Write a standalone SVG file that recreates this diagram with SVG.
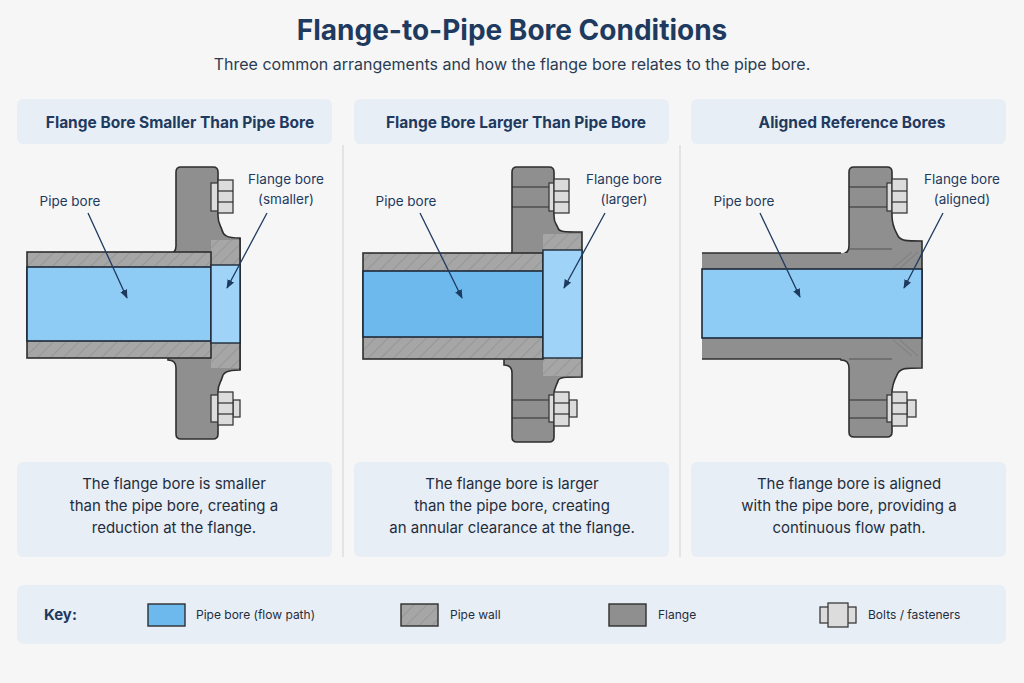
<svg xmlns="http://www.w3.org/2000/svg" width="1024" height="683" viewBox="0 0 1024 683">
<defs>
<pattern id="hatch" width="9" height="9" patternUnits="userSpaceOnUse" patternTransform="rotate(45)">
<rect width="9" height="9" fill="#a6a6a6"/><line x1="0" y1="0" x2="0" y2="9" stroke="#7d7d7d" stroke-width="0.8"/>
</pattern>
<marker id="ah" viewBox="0 0 10 10" refX="9" refY="5" markerWidth="7" markerHeight="7" orient="auto"><path d="M0,1 L10,5 L0,9 z" fill="#1f3a5f"/></marker>
</defs>
<style>
text{font-family:Inter,"Liberation Sans",sans-serif;fill:#1f2d3d}
.hdr{font-size:15.5px;font-weight:700;text-anchor:middle;fill:#1f3a5f}
.box{fill:#e8eef5}
.desc{font-size:15px;text-anchor:middle}
.lab{font-size:13.5px;text-anchor:middle;fill:#1f3a5f}
.fl{fill:#8f8f8f;stroke:#2e2e2e;stroke-width:1.6}
.wall{fill:url(#hatch);stroke:#2e2e2e;stroke-width:1.6}
.bore{fill:#8ecbf5;stroke:#1e2a36;stroke-width:1.6}
.bore2{fill:#9fd3f7;stroke:#1e2a36;stroke-width:1.4}
.bolt{fill:#dcdcdc;stroke:#3a3a3a;stroke-width:1.3}
.ld{stroke:#1f3a5f;stroke-width:1.3;fill:none;marker-end:url(#ah)}
.hole{stroke:#2e2e2e;stroke-width:1.2}
.key{font-size:12px}
</style>
<rect width="1024" height="683" fill="#f6f6f6"/>
<text x="512" y="40" text-anchor="middle" style="font-size:28px;font-weight:700;fill:#1f3a5f">Flange-to-Pipe Bore Conditions</text>
<text x="512" y="70" text-anchor="middle" style="font-size:16px;fill:#2a3c52">Three common arrangements and how the flange bore relates to the pipe bore.</text>
<line x1="343" y1="145" x2="343" y2="557" stroke="#d5d9de" stroke-width="1.2"/>
<line x1="680" y1="145" x2="680" y2="557" stroke="#d5d9de" stroke-width="1.2"/>

<!-- Panel 1 -->
<g id="panel1">
<rect class="box" x="17" y="99" width="315" height="45" rx="6"/>
<text class="hdr" x="180" y="128">Flange Bore Smaller Than Pipe Bore</text>
<path class="fl" d="M176,172 q0,-5 5,-5 h32 q5,0 5,5 v44 c0,8 3,10 4,14 c1,5 4,8 18,8 v132 c-14,0 -17,3 -18,8 c-1,4 -4,6 -4,14 v42 q0,5 -5,5 h-32 q-5,0 -5,-5 v-66 c0,-5 -3,-8 -8,-8 v-106 c5,0 8,-3 8,-8 z"/>
<rect x="211" y="240" width="29" height="128" fill="url(#hatch)"/>
<line x1="240" y1="238" x2="240" y2="370" stroke="#2e2e2e" stroke-width="1.6"/>
<rect class="wall" x="27" y="252" width="184" height="106"/>
<rect class="bore" x="27" y="267" width="184" height="74"/>
<rect class="bore2" x="211" y="265" width="29" height="78"/>
<rect class="bolt" x="211" y="183" width="7" height="28"/><rect class="bolt" x="218" y="180" width="15" height="33"/><line class="hole" x1="218" y1="191" x2="233" y2="191"/><line class="hole" x1="218" y1="202" x2="233" y2="202"/>
<rect class="bolt" x="233" y="400" width="7" height="17"/><rect class="bolt" x="211" y="395" width="7" height="27"/><rect class="bolt" x="218" y="392" width="15" height="33"/><line class="hole" x1="218" y1="403" x2="233" y2="403"/><line class="hole" x1="218" y1="414" x2="233" y2="414"/>
<text class="lab" x="70" y="206">Pipe bore</text>
<text class="lab" x="286" y="184">Flange bore</text><text class="lab" x="286" y="204">(smaller)</text>
<rect class="box" x="17" y="462" width="315" height="95" rx="6"/>
<text class="desc" x="174" y="489">The flange bore is smaller</text>
<text class="desc" x="174" y="511">than the pipe bore, creating a</text>
<text class="desc" x="174" y="533">reduction at the flange.</text>
</g>

<!-- Panel 2 -->
<g id="panel2">
<rect class="box" x="354" y="99" width="315" height="45" rx="6"/>
<text class="hdr" x="516" y="128">Flange Bore Larger Than Pipe Bore</text>
<path class="fl" d="M512,172 q0,-5 5,-5 h32 q5,0 5,5 v44 c0,8 3,8 4,12 c1,4 6,4 24,4 v145 c-18,0 -23,0 -24,4 c-1,4 -4,6 -4,14 v42 q0,5 -5,5 h-32 q-5,0 -5,-5 v-64 c0,-5 -3,-8 -8,-8 v-106 c5,0 8,-3 8,-8 z"/>
<rect x="543" y="234" width="38" height="16" fill="url(#hatch)"/>
<rect x="543" y="358" width="38" height="18" fill="url(#hatch)"/>
<line class="hole" x1="512" y1="187" x2="554" y2="187"/><line class="hole" x1="512" y1="207" x2="554" y2="207"/>
<line class="hole" x1="512" y1="400" x2="554" y2="400"/><line class="hole" x1="512" y1="418" x2="554" y2="418"/>
<rect class="wall" x="363" y="253" width="180" height="106"/>
<rect x="363" y="271" width="180" height="66" fill="#6db9ee" stroke="#1e2a36" stroke-width="1.6"/>
<rect class="bore2" x="543" y="250" width="39" height="108"/>
<rect class="bolt" x="549" y="183" width="5" height="28"/><rect class="bolt" x="554" y="179" width="15" height="34"/><line class="hole" x1="554" y1="191" x2="569" y2="191"/><line class="hole" x1="554" y1="202" x2="569" y2="202"/>
<rect class="bolt" x="569" y="400" width="8" height="17"/><rect class="bolt" x="549" y="395" width="5" height="27"/><rect class="bolt" x="554" y="392" width="15" height="34"/><line class="hole" x1="554" y1="403" x2="569" y2="403"/><line class="hole" x1="554" y1="414" x2="569" y2="414"/>
<text class="lab" x="406" y="206">Pipe bore</text>
<text class="lab" x="624" y="184">Flange bore</text><text class="lab" x="624" y="204">(larger)</text>
<rect class="box" x="354" y="462" width="315" height="95" rx="6"/>
<text class="desc" x="512" y="489">The flange bore is larger</text>
<text class="desc" x="512" y="511">than the pipe bore, creating</text>
<text class="desc" x="512" y="533">an annular clearance at the flange.</text>
</g>

<!-- Panel 3 -->
<g id="panel3">
<rect class="box" x="691" y="99" width="315" height="45" rx="6"/>
<text class="hdr" x="852" y="128">Aligned Reference Bores</text>
<path class="fl" d="M849,172 q0,-5 5,-5 h33 q5,0 5,5 v44 c0,10 3,14 6,20 c3,5 8,5 24,5 v127 c-16,0 -21,0 -24,5 c-3,6 -6,10 -6,20 v39 q0,5 -5,5 h-33 q-5,0 -5,-5 v-64 c0,-5 -3,-8 -8,-8 v-106 c5,0 8,-3 8,-8 z"/>
<rect x="702" y="253" width="160" height="106" fill="#8f8f8f"/>
<path d="M702,253 H841 M702,359 H841" stroke="#2e2e2e" stroke-width="1.6"/>
<line class="hole" x1="849" y1="187" x2="892" y2="187"/><line class="hole" x1="849" y1="207" x2="892" y2="207"/>
<line class="hole" x1="849" y1="400" x2="892" y2="400"/><line class="hole" x1="849" y1="418" x2="892" y2="418"/>
<line x1="849" y1="249" x2="892" y2="249" stroke="#555" stroke-width="1"/>
<line x1="849" y1="359" x2="892" y2="359" stroke="#555" stroke-width="1"/>
<path d="M893,268 L912,252 M900,268 L918,252 M893,340 L912,356 M900,340 L918,356" stroke="#777" stroke-width="0.8"/>
<rect class="bore" x="702" y="269" width="220" height="69"/>
<rect class="bolt" x="887" y="183" width="5" height="28"/><rect class="bolt" x="892" y="179" width="15" height="34"/><line class="hole" x1="892" y1="191" x2="907" y2="191"/><line class="hole" x1="892" y1="202" x2="907" y2="202"/>
<rect class="bolt" x="907" y="400" width="9" height="17"/><rect class="bolt" x="887" y="395" width="5" height="27"/><rect class="bolt" x="892" y="392" width="15" height="34"/><line class="hole" x1="892" y1="403" x2="907" y2="403"/><line class="hole" x1="892" y1="414" x2="907" y2="414"/>
<text class="lab" x="744" y="206">Pipe bore</text>
<text class="lab" x="962" y="184">Flange bore</text><text class="lab" x="962" y="204">(aligned)</text>
<rect class="box" x="691" y="462" width="315" height="95" rx="6"/>
<text class="desc" x="849" y="489">The flange bore is aligned</text>
<text class="desc" x="849" y="511">with the pipe bore, providing a</text>
<text class="desc" x="849" y="533">continuous flow path.</text>
</g>

<g id="connectors">
<line class="ld" x1="88" y1="213" x2="127" y2="298"/>
<line class="ld" x1="267" y1="213" x2="227" y2="288"/>
<line class="ld" x1="420" y1="213" x2="462" y2="298"/>
<line class="ld" x1="605" y1="213" x2="564" y2="288"/>
<line class="ld" x1="760" y1="213" x2="800" y2="297"/>
<line class="ld" x1="943" y1="213" x2="904" y2="288"/>
</g>

<g id="key">
<rect class="box" x="17" y="585" width="989" height="59" rx="7"/>
<text x="44" y="620" style="font-size:15px;font-weight:700;fill:#1f3a5f">Key:</text>
<rect x="148" y="604" width="37" height="22" fill="#6db9ee" stroke="#2e2e2e" stroke-width="1.4"/>
<text class="key" x="196" y="619">Pipe bore (flow path)</text>
<rect x="401" y="604" width="37" height="22" fill="url(#hatch)" stroke="#2e2e2e" stroke-width="1.4"/>
<text class="key" x="450" y="619">Pipe wall</text>
<rect x="609" y="604" width="37" height="22" fill="#8f8f8f" stroke="#2e2e2e" stroke-width="1.4"/>
<text class="key" x="658" y="619">Flange</text>
<rect class="bolt" x="820" y="607" width="36" height="16"/>
<rect class="bolt" x="828" y="603" width="20" height="24" fill="#a8a8a8"/>
<text class="key" x="868" y="619">Bolts / fasteners</text>
</g>
</svg>
